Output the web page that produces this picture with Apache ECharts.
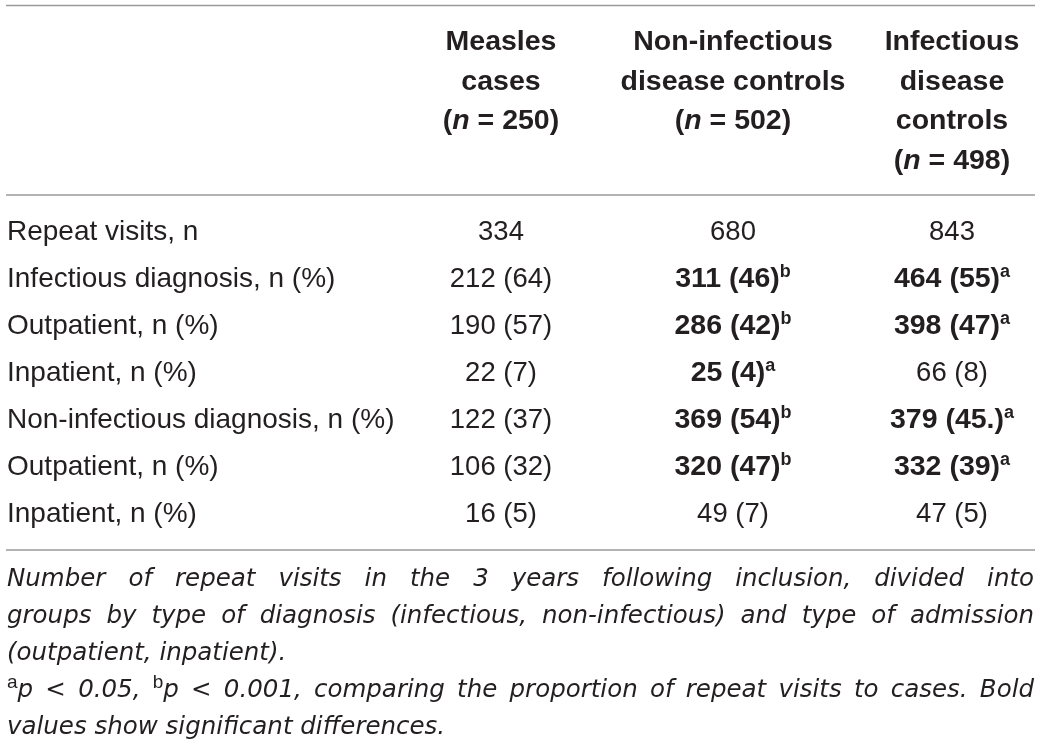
<!DOCTYPE html>
<html>
<head>
<meta charset="utf-8">
<script src="https://cdn.jsdelivr.net/npm/echarts@6/dist/echarts.min.js"></script>
<style>
html,body{margin:0;padding:0;background:#fff;}
#chart{width:1041px;height:748px;}
</style>
</head>
<body>
<div id="chart"></div>
<script>
// ---------------- data ----------------
const columnHeaders = [
  ['Measles', 'cases'],
  ['Non-infectious', 'disease controls'],
  ['Infectious', 'disease', 'controls']
];
const groupSizes = [250, 502, 498];

const rowLabels = [
  'Repeat visits, n',
  'Infectious diagnosis, n (%)',
  'Outpatient, n (%)',
  'Inpatient, n (%)',
  'Non-infectious diagnosis, n (%)',
  'Outpatient, n (%)',
  'Inpatient, n (%)'
];

const measlesCount = [334, 212, 190, 22, 122, 106, 16];
const measlesPct   = [null, '64', '57', '7', '37', '32', '5'];
const measlesSig   = ['', '', '', '', '', '', ''];

const nonInfCount = [680, 311, 286, 25, 369, 320, 49];
const nonInfPct   = [null, '46', '42', '4', '54', '47', '7'];
const nonInfSig   = ['', 'b', 'b', 'a', 'b', 'b', ''];

const infCount = [843, 464, 398, 66, 379, 332, 47];
const infPct   = [null, '55', '47', '8', '45.', '39', '5'];
const infSig   = ['', 'a', 'a', '', 'a', 'a', ''];

const captionLines = [
  'Number of repeat visits in the 3 years following inclusion, divided into',
  'groups by type of diagnosis (infectious, non-infectious) and type of admission',
  '(outpatient, inpatient).'
];
const noteLines = [
  '{a}p < 0.05, {b}p < 0.001, comparing the proportion of repeat visits to cases. Bold',
  'values show significant differences.'
];

// ---------------- styling / layout ----------------
const INK = '#231f20';
const RULE = '#9a9a9a';
const FAM = '"Liberation Sans", Arial, Helvetica, sans-serif';
const NOTE_FAM = '"DejaVu Sans", "Liberation Sans", sans-serif';
const F_REG = 'normal normal 27.5px ' + FAM;
const F_BOLD = 'normal bold 28.5px ' + FAM;
const F_BOLD_IT = 'italic bold 28.5px ' + FAM;
const F_SUP_BOLD = 'normal bold 18px ' + FAM;
const F_NOTE = 'italic normal 24.5px ' + NOTE_FAM;
const F_NOTE_SUP = 'normal normal 19px ' + FAM;
const SUP_DY = -6.5;
const NOTE_SUP_DY = -8;

const colX = [501, 733, 952];
const headerY0 = 42.5, headerStep = 39.5;
const noteLeft = 7, noteRight = 1034, noteY0 = 579.5, noteStep = 37;

const ctx = document.createElement('canvas').getContext('2d');
function tw(text, font) { ctx.font = font; return ctx.measureText(text).width; }

function segElements(segs, x, y, align) {
  const widths = segs.map(s => tw(s.text, s.font));
  const total = widths.reduce((a, b) => a + b, 0);
  let cur = align === 'center' ? x - total / 2 : x;
  return segs.map((s, i) => {
    const el = {
      type: 'text', x: cur, y: y + (s.dy || 0), silent: true,
      style: { text: s.text, font: s.font, fill: INK, align: 'left', verticalAlign: 'middle' }
    };
    cur += widths[i];
    return el;
  });
}

// ---------------- cells ----------------
const columns = [
  { count: measlesCount, pct: measlesPct, sig: measlesSig },
  { count: nonInfCount, pct: nonInfPct, sig: nonInfSig },
  { count: infCount, pct: infPct, sig: infSig }
];
const cells = [];
const cellData = [];
columns.forEach((col, c) => {
  col.count.forEach((n, r) => {
    const txt = col.pct[r] == null ? String(n) : n + ' (' + col.pct[r] + ')';
    const bold = !!col.sig[r];
    const segs = [{ text: txt, font: bold ? F_BOLD : F_REG }];
    if (bold) segs.push({ text: col.sig[r], font: F_SUP_BOLD, dy: SUP_DY });
    cells.push(segs);
    cellData.push([colX[c], r]);
  });
});

// ---------------- header ----------------
const graphicEls = [];
columnHeaders.forEach((lines, c) => {
  const all = lines.map(t => [{ text: t, font: F_BOLD }]);
  all.push([
    { text: '(', font: F_BOLD },
    { text: 'n', font: F_BOLD_IT },
    { text: ' = ' + groupSizes[c] + ')', font: F_BOLD }
  ]);
  all.forEach((segs, i) => {
    graphicEls.push(...segElements(segs, colX[c], headerY0 + headerStep * i, 'center'));
  });
});

// rules
[5.5, 195, 550].forEach(y => {
  graphicEls.push({ type: 'line', silent: true, shape: { x1: 6, y1: y, x2: 1035, y2: y },
    style: { stroke: RULE, lineWidth: 1.5 } });
});

// ---------------- footnotes (justified) ----------------
function parseWord(w) {
  const segs = [];
  const re = /\{(\w)\}/g;
  let last = 0, m;
  while ((m = re.exec(w))) {
    if (m.index > last) segs.push({ text: w.slice(last, m.index), font: F_NOTE });
    segs.push({ text: m[1], font: F_NOTE_SUP, dy: NOTE_SUP_DY });
    last = re.lastIndex;
  }
  if (last < w.length) segs.push({ text: w.slice(last), font: F_NOTE });
  return segs;
}
function noteLine(line, y, justify) {
  const words = line.split(' ').map(parseWord);
  const ww = words.map(w => w.reduce((a, s) => a + tw(s.text, s.font), 0));
  const sum = ww.reduce((a, b) => a + b, 0);
  const gap = (justify && words.length > 1) ? (noteRight - noteLeft - sum) / (words.length - 1) : tw(' ', F_NOTE);
  let cur = noteLeft;
  words.forEach((w, i) => {
    graphicEls.push(...segElements(w, cur, y, 'left'));
    cur += ww[i] + gap;
  });
}
const allNotes = [];
captionLines.forEach((l, i) => allNotes.push([l, i < captionLines.length - 1]));
noteLines.forEach((l, i) => allNotes.push([l, i < noteLines.length - 1]));
allNotes.forEach((n, i) => noteLine(n[0], noteY0 + noteStep * i, n[1]));

// ---------------- chart ----------------
const chart = echarts.init(document.getElementById('chart'), null, { renderer: 'canvas' });
chart.setOption({
  animation: false,
  backgroundColor: '#ffffff',
  grid: { left: 0, right: 0, top: 208.5, bottom: 210.5 },
  xAxis: { type: 'value', min: 0, max: 1041, show: false },
  yAxis: {
    type: 'category', data: rowLabels, inverse: true,
    axisLine: { show: false }, axisTick: { show: false }, splitLine: { show: false },
    axisLabel: { inside: true, margin: 7, interval: 0, color: INK, fontFamily: FAM, fontSize: 28 }
  },
  graphic: { elements: graphicEls },
  series: [{
    type: 'custom',
    clip: false,
    silent: true,
    data: cellData,
    encode: { x: 0, y: 1 },
    renderItem: function (params, api) {
      const p = api.coord([api.value(0), api.value(1)]);
      return { type: 'group', children: segElements(cells[params.dataIndex], p[0], p[1], 'center') };
    }
  }]
});
</script>
</body>
</html>
